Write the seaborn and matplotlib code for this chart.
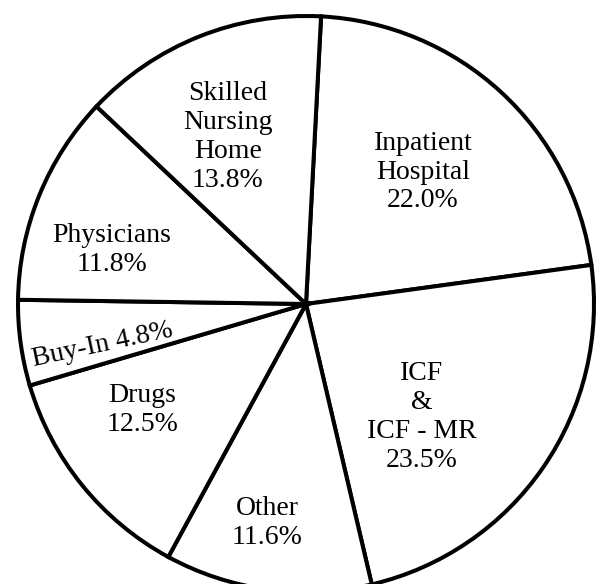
# Pie chart of spending shares, drawn in a plain black-and-white style
import matplotlib
matplotlib.use("Agg")
import matplotlib.pyplot as plt
import seaborn as sns

# Data (clockwise from the top)
categories = ["Inpatient\nHospital", "ICF\n&\nICF - MR", "Other", "Drugs",
              "Buy-In", "Physicians", "Skilled\nNursing\nHome"]
shares = [22.0, 23.5, 11.6, 12.5, 4.8, 11.8, 13.8]

# Label placement (in pie radius units) and rotation, layout only
label_pos = [(0.406, 0.458), (0.403, -0.392), (-0.135, -0.760), (-0.569, -0.368),
             (-0.705, -0.142), (-0.674, 0.188), (-0.271, 0.580)]
label_rot = [0, 0, 0, 0, 12, 0, 0]

sns.set_theme(style="white")
plt.rcParams['font.family'] = ['Liberation Serif', 'DejaVu Serif']

fig = plt.figure(figsize=(6.0, 5.84), dpi=100)
ax = fig.add_axes([0, 0, 1, 1])

ax.pie(shares, startangle=87, counterclock=False, colors=["white"] * len(shares),
       wedgeprops=dict(edgecolor="black", linewidth=2.9))

for name, val, (x, y), rot in zip(categories, shares, label_pos, label_rot):
    if name == "Buy-In":
        txt = f"{name} {val:.1f}%"
    else:
        txt = f"{name}\n{val:.1f}%"
    ax.text(x, y, txt, ha="center", va="center", fontsize=20, rotation=rot,
            linespacing=1.2, color="black")

# pixels per radius ~288, pie centre at (306, 304) from top-left
r = 288.0
ax.set_xlim(-306 / r, (600 - 306) / r)
ax.set_ylim(-(584 - 304) / r, 304 / r)
ax.set_aspect("auto")
ax.axis("off")

fig.savefig("out.png", dpi=100, facecolor="white")
